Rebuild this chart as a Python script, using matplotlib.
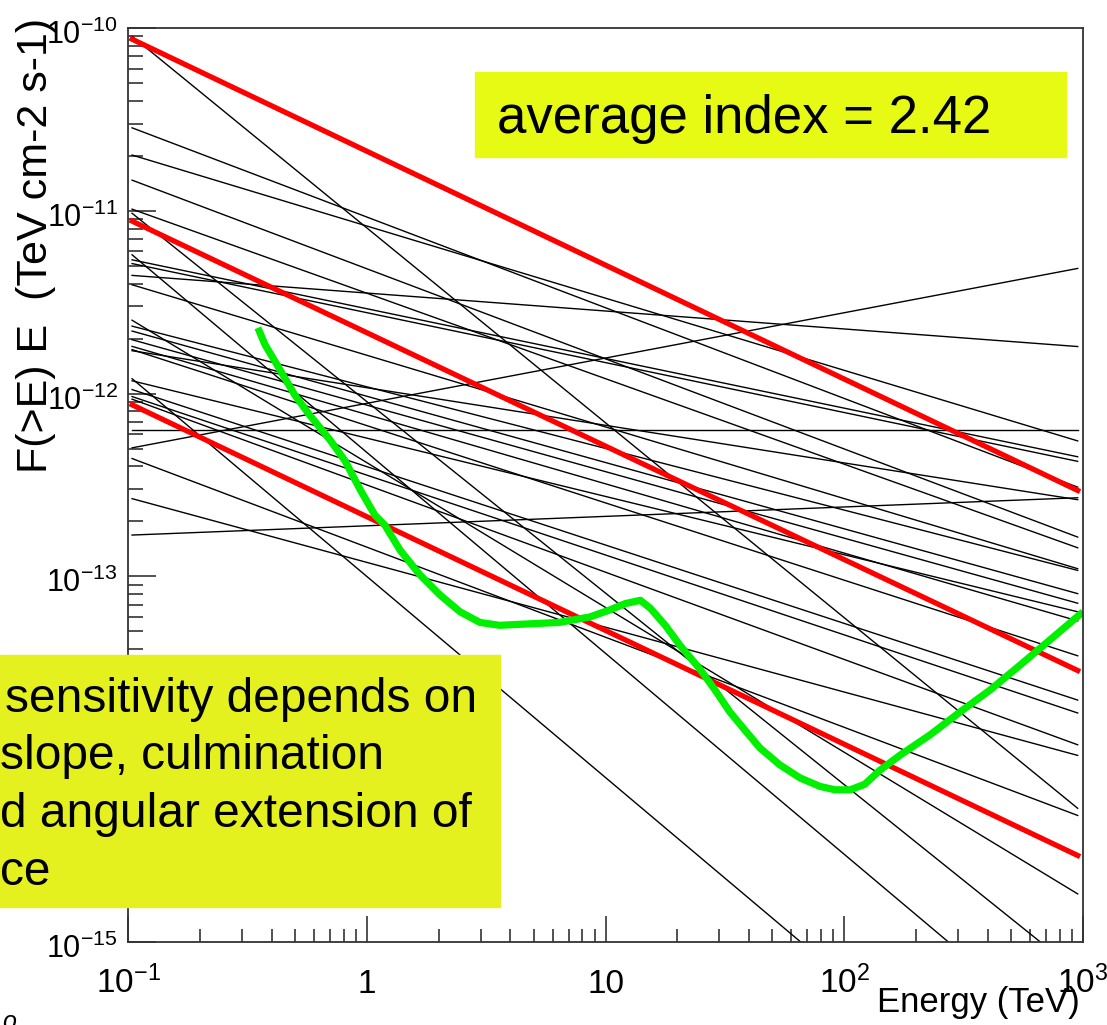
import numpy as np
import matplotlib
matplotlib.use('Agg')
from matplotlib import pyplot as plt
from matplotlib.patches import Rectangle
from matplotlib.ticker import LogLocator, NullFormatter
from matplotlib.transforms import ScaledTranslation

plt.rcParams['font.family'] = ['Liberation Sans', 'DejaVu Sans']
plt.rcParams['mathtext.fontset'] = 'custom'
plt.rcParams['mathtext.rm'] = 'Liberation Sans'
plt.rcParams['mathtext.it'] = 'Liberation Sans:italic'
plt.rcParams['mathtext.bf'] = 'Liberation Sans:bold'

# E*F(>E) of each source at 0.1 TeV and extrapolated to 1000 TeV
source_flux_lo = [9.4e-11, 2.9e-11, 2.05e-11, 1.5e-11, 1.04e-11, 1.01e-11,
                  6.0e-12, 5.45e-12, 5.2e-12, 4.45e-12, 4.0e-12, 2.6e-12,
                  2.37e-12, 2.23e-12, 2.0e-12, 1.84e-12, 1.77e-12, 1.73e-12,
                  1.26e-12, 1.19e-12, 1.07e-12, 9.8e-13, 9.5e-13, 6.3e-13,
                  5.0e-13, 4.5e-13, 2.7e-13, 1.68e-13]
source_flux_hi = [5.1e-15, 3.0e-13, 5.4e-13, 1.6e-13, 1.4e-13, 6.5e-16,
                  2.4e-16, 4.45e-13, 4.2e-13, 1.8e-12, 1.08e-13, 1.76e-15,
                  1.06e-13, 7.9e-14, 7.0e-14, 5.6e-14, 3.6e-14, 2.6e-13,
                  5.0e-17, 6.3e-14, 2.06e-14, 1.75e-14, 1.17e-14, 6.3e-13,
                  4.9e-12, 4.8e-15, 1.03e-14, 2.7e-13]

# spectra with the average index, three normalisations
ref_flux_lo = [8.9e-11, 9.0e-12, 8.9e-13]
ref_flux_hi = [2.86e-13, 2.96e-14, 2.88e-15]

# sensitivity curve
sens_energy = [0.35, 0.375, 0.433, 0.50, 0.578, 0.70, 0.81, 0.94, 1.08, 1.19,
               1.38, 1.67, 2.03, 2.46, 2.98, 3.6, 4.8, 6.4, 8.6, 10.4, 12.1,
               14.0, 15.4, 17.8, 20.5, 24.9, 28.7, 33.2, 38.4, 44.4, 53.8,
               65.3, 79.1, 91.5, 106, 122, 141, 171, 229, 305, 408, 545, 728,
               1000]
sens_flux = [2.29e-12, 1.85e-12, 1.35e-12, 9.8e-13, 7.6e-13, 5.6e-13, 4.3e-13,
             2.97e-13, 2.17e-13, 1.91e-13, 1.39e-13, 1.02e-13, 7.9e-14,
             6.4e-14, 5.6e-14, 5.4e-14, 5.5e-14, 5.6e-14, 6.0e-14, 6.55e-14,
             7.1e-14, 7.4e-14, 6.7e-14, 5.4e-14, 4.2e-14, 3.1e-14, 2.4e-14,
             1.81e-14, 1.44e-14, 1.15e-14, 9.3e-15, 7.9e-15, 7.1e-15, 6.8e-15,
             6.8e-15, 7.3e-15, 8.7e-15, 1.05e-14, 1.36e-14, 1.81e-14, 2.39e-14,
             3.27e-14, 4.5e-14, 6.4e-14]

x_tick_vals = [0.1, 1, 10, 100, 1000]
x_tick_text = ['$10^{-1}$', '1', '10', '$10^{2}$', '$10^{3}$']
y_tick_vals = [1e-10, 1e-11, 1e-12, 1e-13, 1e-14, 1e-15]
y_tick_text = ['$10^{-10}$', '$10^{-11}$', '$10^{-12}$', '$10^{-13}$',
               '$10^{-14}$', '$10^{-15}$']


def power_law(lo, hi, energy):
    index = np.log10(hi / lo) / 4.0
    return lo * (energy / 0.1) ** index


fig = plt.figure(figsize=(11.07, 10.25), dpi=100)
ax = fig.add_axes([128 / 1107, 1 - 942 / 1025, 955 / 1107, 914 / 1025])
ax.set_xscale('log')
ax.set_yscale('log')
ax.set_xlim(0.1, 1000)
ax.set_ylim(1e-15, 1e-10)

energy = np.logspace(np.log10(0.104), np.log10(950), 300)
for lo, hi in zip(source_flux_lo, source_flux_hi):
    ax.plot(energy, power_law(lo, hi, energy), color='black', lw=1.0)
for lo, hi in zip(ref_flux_lo, ref_flux_hi):
    ax.plot(energy, power_law(lo, hi, energy), color='#ff0000', lw=3.8)
ax.plot(sens_energy, sens_flux, color='#00f000', lw=5.2, solid_capstyle='butt')

# ROOT style axes: inward ticks on left and bottom only
ax.xaxis.set_minor_locator(LogLocator(base=10, subs=range(2, 10), numticks=20))
ax.yaxis.set_minor_locator(LogLocator(base=10, subs=range(2, 10), numticks=20))
ax.xaxis.set_minor_formatter(NullFormatter())
ax.yaxis.set_minor_formatter(NullFormatter())
ax.tick_params(which='both', direction='in', top=False, right=False,
               labelbottom=False, labelleft=False, color='#222222', width=1.1)
ax.tick_params(axis='y', which='major', length=20)
ax.tick_params(axis='y', which='minor', length=10.5)
ax.tick_params(axis='x', which='major', length=19)
ax.tick_params(axis='x', which='minor', length=9.5)
for sp in ax.spines.values():
    sp.set_linewidth(1.3)
    sp.set_color('#333333')

x_shift = ax.get_xaxis_transform() + ScaledTranslation(0, -0.51, fig.dpi_scale_trans)
for v, t in zip(x_tick_vals, x_tick_text):
    ax.text(v, 0, t, transform=x_shift, ha='center', va='baseline', fontsize=24)
y_shift = ax.get_yaxis_transform() + ScaledTranslation(-0.10, -0.16, fig.dpi_scale_trans)
for v, t in zip(y_tick_vals, y_tick_text):
    ax.text(0, v, t, transform=y_shift, ha='right', va='baseline', fontsize=22)

fig.text(36 / 1107, 1 - 18 / 1025, 'F(>E) E  (TeV cm-2 s-1)', rotation=90,
         ha='center', va='top', fontsize=31)
fig.text(1080 / 1107, 1 - 1012 / 1025, 'Energy (TeV)', ha='right',
         va='baseline', fontsize=25)

# annotation boxes
fig.patches.append(Rectangle((475 / 1107, 1 - 157 / 1025), 591 / 1107, 85 / 1025,
                             transform=fig.transFigure, color='#e6fa14', zorder=2))
fig.text(497 / 1107, 1 - 133 / 1025, 'average index = 2.42', ha='left',
         va='baseline', fontsize=38, zorder=3)

fig.patches.append(Rectangle((0, 1 - 907 / 1025), 500 / 1107, 252 / 1025,
                             transform=fig.transFigure, color='#e5f01f', zorder=2))
box_lines = ['sensitivity depends on', 'slope, culmination',
             'd angular extension of', 'ce']
box_x = [5, 0, 0, 0]
box_base = [712, 769, 827, 885]
for t, x, y in zip(box_lines, box_x, box_base):
    fig.text(x / 1107, 1 - y / 1025, t, ha='left', va='baseline',
             fontsize=34.5, zorder=3)

fig.text(2 / 1107, 1 - 1010 / 1025, 'o', ha='left', va='top', fontsize=18,
         style='italic')

fig.savefig('out.png', dpi=100)
